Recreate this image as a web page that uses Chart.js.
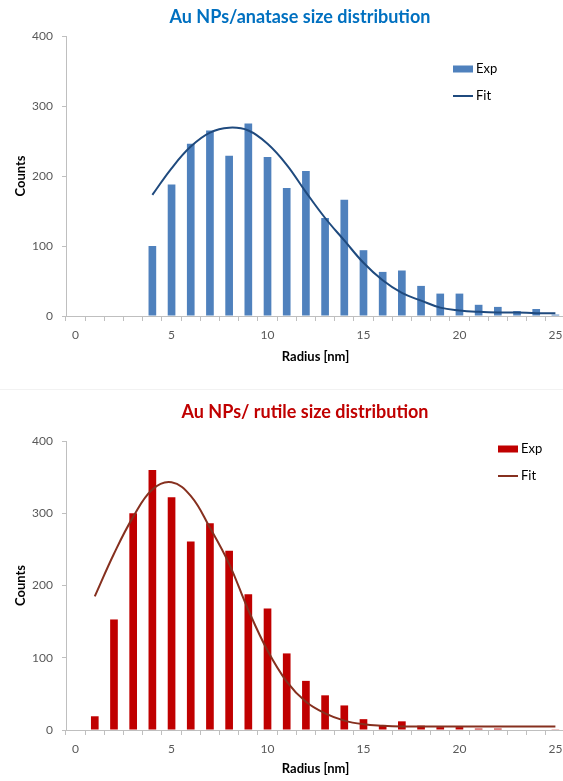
<!DOCTYPE html>
<html>
<head>
<meta charset="utf-8">
<script src="https://cdn.jsdelivr.net/npm/chart.js@4.4.1/dist/chart.umd.min.js"></script>
<style>
html,body{margin:0;padding:0;background:#fff;overflow:hidden;width:563px;height:781px;position:relative;}
canvas{position:absolute;left:0;display:block;}
#c1{top:0;}
#c2{top:390px;}
#sep{position:absolute;left:0;top:389px;width:563px;height:1px;background:#F2F2F2;}
</style>
</head>
<body>
<canvas id="c1" width="580" height="389"></canvas>
<div id="sep"></div>
<canvas id="c2" width="580" height="391"></canvas>
<script>
// ---- data ----
const radiusLabels = ['0','1','2','3','4','5','6','7','8','9','10','11','12','13','14','15','16','17','18','19','20','21','22','23','24','25'];

const anataseExp = [null,null,null,null,100,188,246,265,229,275,227,183,207,140,166,94,63,65,43,32,32,16,13,7,10,2];
const anataseFit = [null,null,null,null,173,211,242,262,269,265,246,216,177,140,108,76,51,33,22,12,8,6,5,5,4,4];

const rutileExp = [null,19,153,300,360,322,261,286,248,188,168,106,68,48,34,15,7,12,6,4,4,2,2,null,null,1];
const rutileFit = [null,185,244,295,333,343,324,280,230,166,110,67,39,23,13,8,6,5,5,5,5,5,5,5,5,5];

const FONT = 'Lato, "Open Sans", "DejaVu Sans", sans-serif';

const headingPlugin = {
  id: 'heading',
  afterDraw(chart, args, opts) {
    const ctx = chart.ctx;
    ctx.save();
    ctx.font = 'bold ' + opts.size + 'px ' + FONT;
    ctx.fillStyle = opts.color;
    ctx.textAlign = 'center';
    ctx.textBaseline = 'middle';
    ctx.fillText(opts.text, opts.x, opts.y);
    ctx.restore();
  }
};

const legendPlugin = {
  id: 'fixedLegend',
  afterDraw(chart, args, opts) {
    const ctx = chart.ctx;
    ctx.save();
    chart.data.datasets.forEach((ds, i) => {
      const y = opts.y + i * opts.gap;
      if (ds.type === 'bar') {
        ctx.fillStyle = ds.backgroundColor;
        ctx.fillRect(opts.x, y - 3.5, 20, 7);
      } else {
        ctx.strokeStyle = ds.borderColor;
        ctx.lineWidth = 2;
        ctx.beginPath();
        ctx.moveTo(opts.x, y);
        ctx.lineTo(opts.x + 20, y);
        ctx.stroke();
      }
      ctx.fillStyle = '#000';
      ctx.font = '13px ' + FONT;
      ctx.textAlign = 'left';
      ctx.textBaseline = 'middle';
      ctx.fillText(ds.label, opts.x + 23, y);
    });
    ctx.restore();
  }
};

function buildConfig(p) {
  return {
    type: 'bar',
    data: {
      labels: radiusLabels,
      datasets: [
        {type: 'line', label: 'Fit', data: p.fit, borderColor: p.lineColor, borderWidth: 2,
         pointRadius: 0, tension: 0.4, fill: false, order: 1},
        {type: 'bar', label: 'Exp', data: p.exp, backgroundColor: p.barColor,
         barPercentage: 0.4, categoryPercentage: 1, order: 2}
      ].reverse()
    },
    options: {
      responsive: false,
      animation: false,
      devicePixelRatio: 1,
      layout: {padding: {top: p.top, right: 15, bottom: 0, left: 0}},
      plugins: {
        legend: {display: false},
        tooltip: {enabled: false},
        title: {display: false},
        heading: {text: p.title, color: p.titleColor, x: p.titleX, y: p.titleY, size: 18},
        fixedLegend: {x: p.legendX, y: p.legendY, gap: 27}
      },
      scales: {
        x: {
          offset: true,
          grid: {offset: true, drawOnChartArea: false, drawTicks: true, tickLength: 5, color: '#BFBFBF'},
          border: {color: '#BFBFBF'},
          ticks: {autoSkip: false, maxRotation: 0, padding: 7, color: '#595959',
                  font: {family: FONT, size: 12},
                  callback: (v, i) => (i % 5 === 0 ? radiusLabels[i] : '')},
          title: {display: true, text: 'Radius [nm]', color: '#000',
                  font: {family: FONT, size: 13, weight: 'bold'},
                  padding: {top: 0, bottom: p.xTitlePad}},
          afterFit: s => { s.height = p.xHeight; }
        },
        y: {
          min: 0, max: 400,
          ticks: {stepSize: 100, padding: 9, color: '#595959', font: {family: FONT, size: 12}},
          grid: {drawOnChartArea: false, drawTicks: true, tickLength: 4, color: '#BFBFBF'},
          border: {color: '#BFBFBF'},
          title: {display: true, text: 'Counts', color: '#000',
                  font: {family: FONT, size: 13, weight: 'bold'},
                  padding: {top: 13, bottom: 0}},
          afterFit: s => { s.width = 66; }
        }
      }
    },
    plugins: [headingPlugin, legendPlugin]
  };
}

new Chart(document.getElementById('c1'), buildConfig({
  exp: anataseExp, fit: anataseFit,
  barColor: '#4F81BD', lineColor: '#1F4A7E',
  title: 'Au NPs/anatase size distribution', titleColor: '#0070C0', titleX: 300, titleY: 17,
  top: 36, xHeight: 73, xTitlePad: 24,
  legendX: 453, legendY: 69
}));

new Chart(document.getElementById('c2'), buildConfig({
  exp: rutileExp, fit: rutileFit,
  barColor: '#C00000', lineColor: '#86301F',
  title: 'Au NPs/ rutile size distribution', titleColor: '#C00000', titleX: 305, titleY: 22,
  top: 51, xHeight: 51, xTitlePad: 4,
  legendX: 498, legendY: 59
}));
</script>
</body>
</html>
